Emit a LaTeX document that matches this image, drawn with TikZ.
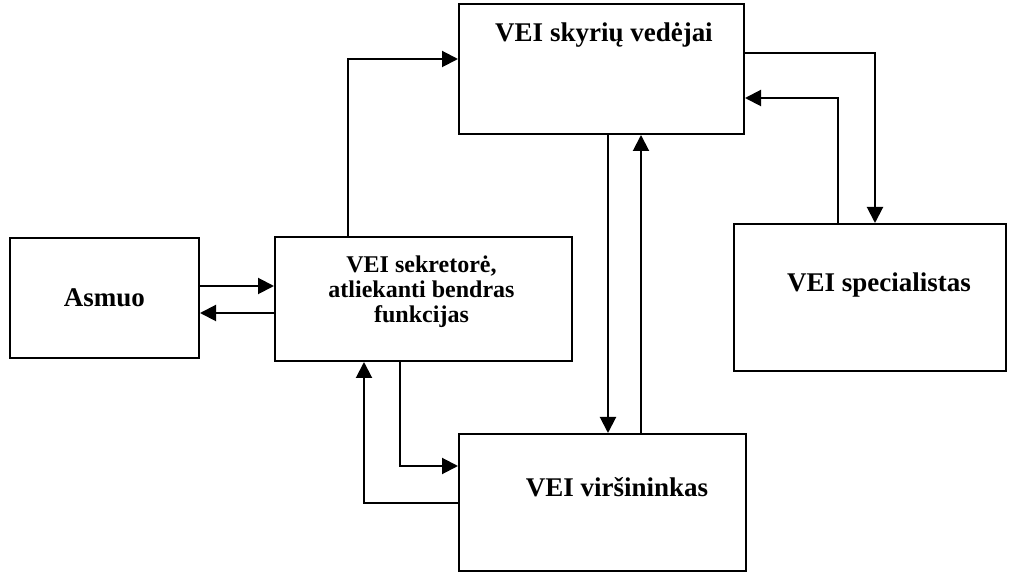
\documentclass[tikz,border=0pt]{standalone}
\usepackage{fontspec}
\setmainfont{Liberation Serif}
\usetikzlibrary{arrows.meta,shapes}
\tikzstyle{obox}=[rectangle,draw=black,line width=1pt,inner sep=0pt]
\tikzstyle{otext}=[inner sep=0pt,font=\bfseries\fontsize{13.5}{16}\selectfont]
\tikzstyle{dflow}=[-{Triangle[length=8pt,width=8pt]}, line width=1pt]

\begin{document}
\begin{tikzpicture}[x=0.5pt,y=-0.5pt]
\useasboundingbox (0,0) rectangle (1019,577);
\node[obox,minimum width=94.5pt,minimum height=60pt] (asm) at (104.5,298) {};
\node[obox,minimum width=148.5pt,minimum height=62pt] (sekr) at (423.5,299) {};
\node[obox,minimum width=142.5pt,minimum height=65pt] (ved) at (601.5,69) {};
\node[obox,minimum width=136pt,minimum height=73.5pt] (spec) at (870,297.5) {};
\node[obox,minimum width=143.5pt,minimum height=68.5pt] (vir) at (602.5,502.5) {};
\node[otext,anchor=base] (tasm) at (104.5,307) {Asmuo};
\node[otext,align=center,font=\bfseries\fontsize{12}{12.5}\selectfont] (tsekr) at (421.5,291.5) {VEI sekretorė,\\atliekanti bendras\\funkcijas};
\node[otext,anchor=base] (tved) at (604,42) {VEI skyrių vedėjai};
\node[otext,anchor=base] (tspec) at (879,292) {VEI specialistas};
\node[otext,anchor=base] (tvir) at (617,497) {VEI viršininkas};
\draw[dflow](asm.east |- 0,286)--(sekr.west |- 0,286);
\draw[dflow](sekr.west |- 0,313)--(asm.east |- 0,313);
\draw[dflow](sekr.north -| 348,0)|-(ved.west |- 0,59);
\draw[dflow](ved.east |- 0,53)-|(spec.north -| 875,0);
\draw[dflow](spec.north -| 838,0)|-(ved.east |- 0,98);
\draw[dflow](ved.south -| 608,0)--(vir.north -| 608,0);
\draw[dflow](vir.north -| 641,0)--(ved.south -| 641,0);
\draw[dflow](sekr.south -| 400,0)|-(vir.west |- 0,466);
\draw[dflow](vir.west |- 0,503)-|(sekr.south -| 364,0);
\end{tikzpicture}
\end{document}
